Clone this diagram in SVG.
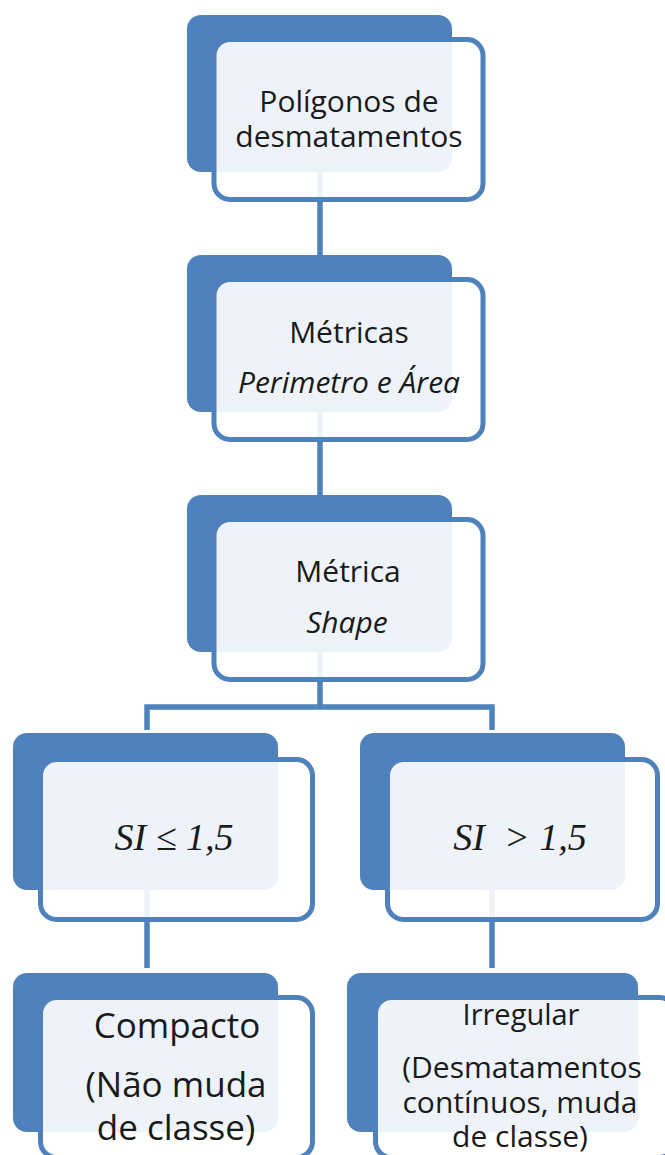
<svg xmlns="http://www.w3.org/2000/svg" width="665" height="1155" viewBox="0 0 665 1155">
<style>
.back{fill:#4f81bd}
.front{fill:#ffffff;fill-opacity:0.9;stroke:#4f81bd;stroke-width:5}
.conn{fill:none;stroke:#4f81bd;stroke-width:5.5;stroke-linejoin:miter}
.t{font-family:"Open Sans","Liberation Sans",sans-serif;fill:#1a1a1a;text-anchor:middle}
.m{font-family:"Liberation Serif","Times New Roman",serif;font-style:italic;fill:#1a1a1a;text-anchor:middle}
</style>
<rect width="665" height="1155" fill="#ffffff"/>
<g id="connectors">
<line class="conn" x1="320" y1="165" x2="320" y2="260"/>
<line class="conn" x1="320" y1="405" x2="320" y2="500"/>
<polyline class="conn" points="147,730 147,707 492,707 492,730"/>
<line class="conn" x1="320" y1="645" x2="320" y2="707"/>
<line class="conn" x1="147" y1="885" x2="147" y2="968"/>
<line class="conn" x1="492" y1="885" x2="492" y2="968"/>
</g>
<g id="node-poligonos">
<rect class="back" x="187" y="15" width="265" height="157" rx="14"/>
<rect class="front" x="214" y="39.5" width="269" height="160" rx="16"/>
<text class="t" font-size="30" x="349" y="112">Polígonos de</text>
<text class="t" font-size="30" x="349" y="147">desmatamentos</text>
</g>
<g id="node-metricas">
<rect class="back" x="187" y="255" width="265" height="157" rx="14"/>
<rect class="front" x="214" y="279.5" width="269" height="160" rx="16"/>
<text class="t" font-size="30" x="349" y="343">Métricas</text>
<text class="t" font-size="30" font-style="italic" x="349" y="393">Perimetro e Área</text>
</g>
<g id="node-shape">
<rect class="back" x="187" y="495" width="265" height="157" rx="14"/>
<rect class="front" x="214" y="519.5" width="269" height="160" rx="16"/>
<text class="t" font-size="30" x="348" y="582">Métrica</text>
<text class="t" font-size="30" font-style="italic" x="347" y="633">Shape</text>
</g>
<g id="node-si-le">
<rect class="back" x="13" y="733" width="265" height="157" rx="14"/>
<rect class="front" x="40.5" y="759.5" width="272" height="160" rx="16"/>
<text class="m" font-size="38" x="174" y="850">SI ≤ 1,5</text>
</g>
<g id="node-si-gt">
<rect class="back" x="360" y="733" width="265" height="157" rx="14"/>
<rect class="front" x="387.5" y="759.5" width="270" height="160" rx="16"/>
<text class="m" font-size="38" x="520" y="850" xml:space="preserve">SI  &gt; 1,5</text>
</g>
<g id="node-compacto">
<rect class="back" x="13" y="973" width="265" height="159" rx="14"/>
<rect class="front" x="40.5" y="997.5" width="272" height="160" rx="16"/>
<text class="t" font-size="35" x="177" y="1038">Compacto</text>
<text class="t" font-size="35" x="176" y="1097">(Não muda</text>
<text class="t" font-size="35" x="176" y="1140">de classe)</text>
</g>
<g id="node-irregular">
<rect class="back" x="347" y="973" width="291" height="159" rx="14"/>
<rect class="front" x="375.5" y="997.5" width="300" height="160" rx="16"/>
<text class="t" font-size="29" x="521" y="1025">Irregular</text>
<text class="t" font-size="30" x="522" y="1078">(Desmatamentos</text>
<text class="t" font-size="30" x="520" y="1113">contínuos, muda</text>
<text class="t" font-size="30" x="520" y="1147">de classe)</text>
</g>
</svg>
